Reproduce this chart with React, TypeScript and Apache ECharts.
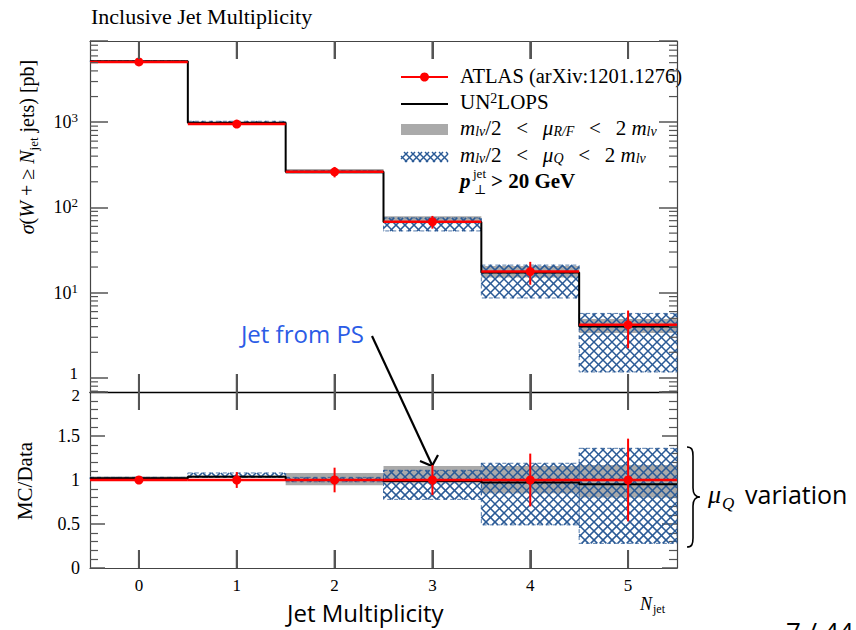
import React, { useEffect, useRef } from 'react';
import * as echarts from 'echarts';

// ---------------- data ----------------
const nJet = [0, 1, 2, 3, 4, 5];
const xTickLabels = ['0', '1', '2', '3', '4', '5'];
const atlasData = [5100, 950, 262, 68, 17.7, 4.2];
const atlasRelErr = [0.02, 0.09, 0.14, 0.17, 0.3, 0.47];
const un2lops = [5200, 985, 262, 67.3, 17.2, 4.0];
// scale-variation bands, relative to data
const muRFLo = [1.0, 1.03, 0.94, 0.96, 0.85, 0.8];
const muRFHi = [1.04, 1.05, 1.08, 1.16, 1.16, 1.17];
const muQLo = [1.01, 1.03, 0.98, 0.78, 0.49, 0.28];
const muQHi = [1.03, 1.08, 1.03, 1.11, 1.19, 1.36];
const logMinorTicks = [
  0.7, 0.8, 0.9, 2, 3, 4, 5, 6, 7, 8, 9, 20, 30, 40, 50, 60, 70, 80, 90,
  200, 300, 400, 500, 600, 700, 800, 900, 2000, 3000, 4000, 5000, 6000, 7000, 8000,
];

const SERIF = '"Liberation Serif", "DejaVu Serif", serif';
const SANS = '"Open Sans", "Noto Sans", sans-serif';
const RED = '#ff0000';
const BLUE = '#2a5a96';
const GRAY = '#aaaaaa';
const FRAME = '#444444';
const TICK = '#555555';

echarts.graphic.registerShape(
  'brace',
  echarts.graphic.extendPath(
    'M0,0 C5,0 6,3 6,9 L6,41 C6,46 8,50 13,50 C8,50 6,54 6,59 L6,91 C6,97 5,100 0,100',
    {}
  )
);

function hatchLines(x0: number, y0: number, x1: number, y1: number, d: number, color: string, lw: number) {
  const out: any[] = [];
  for (let c = Math.ceil((x0 + y0) / d) * d; c <= x1 + y1; c += d) {
    const xa = Math.max(x0, c - y1);
    const xb = Math.min(x1, c - y0);
    if (xb > xa) out.push({ type: 'line', shape: { x1: xa, y1: c - xa, x2: xb, y2: c - xb }, style: { stroke: color, lineWidth: lw } });
  }
  for (let c = Math.ceil((x0 - y1) / d) * d; c <= x1 - y0; c += d) {
    const xa = Math.max(x0, c + y0);
    const xb = Math.min(x1, c + y1);
    if (xb > xa) out.push({ type: 'line', shape: { x1: xa, y1: xa - c, x2: xb, y2: xb - c }, style: { stroke: color, lineWidth: lw } });
  }
  return out;
}

const grayRender = (params: any, api: any) => {
  const x = api.value(0);
  const p0 = api.coord([x - 0.5, api.value(2)]);
  const p1 = api.coord([x + 0.5, api.value(1)]);
  return { type: 'rect', shape: { x: p0[0], y: p0[1], width: p1[0] - p0[0], height: p1[1] - p0[1] }, style: { fill: GRAY } };
};

const hatchRender = (params: any, api: any) => {
  const x = api.value(0);
  const p0 = api.coord([x - 0.5, api.value(2)]);
  const p1 = api.coord([x + 0.5, api.value(1)]);
  const children = hatchLines(p0[0], p0[1], p1[0], p1[1], 9, BLUE, 1.5);
  children.push({
    type: 'rect',
    shape: { x: p0[0], y: p0[1], width: p1[0] - p0[0], height: p1[1] - p0[1] },
    style: { fill: 'none', stroke: BLUE, lineWidth: 1, lineDash: [4, 3], opacity: 0.8 },
  });
  return { type: 'group', children };
};

const atlasRender = (params: any, api: any) => {
  const x = api.value(0);
  const v = api.value(1);
  const a = api.coord([x - 0.5, v]);
  const b = api.coord([x + 0.5, v]);
  const lo = api.coord([x, api.value(2)]);
  const hi = api.coord([x, api.value(3)]);
  return {
    type: 'group',
    children: [
      { type: 'line', shape: { x1: a[0], y1: a[1], x2: b[0], y2: b[1] }, style: { stroke: RED, lineWidth: 2.5 } },
      { type: 'line', shape: { x1: lo[0], y1: hi[1], x2: lo[0], y2: lo[1] }, style: { stroke: RED, lineWidth: 2 } },
      { type: 'circle', shape: { cx: lo[0], cy: a[1], r: 4.5 }, style: { fill: RED } },
    ],
  };
};

const minorTickRender = (params: any, api: any) => {
  const cs = params.coordSys;
  const y = api.coord([0, api.value(1)])[1];
  return {
    type: 'group',
    children: [
      { type: 'line', shape: { x1: cs.x, y1: y, x2: cs.x + 8, y2: y }, style: { stroke: TICK, lineWidth: 1.2 } },
      { type: 'line', shape: { x1: cs.x + cs.width - 8, y1: y, x2: cs.x + cs.width, y2: y }, style: { stroke: TICK, lineWidth: 1.2 } },
    ],
  };
};

const xTickRender = (params: any, api: any) => {
  const cs = params.coordSys;
  const x = api.coord([api.value(0), api.value(1)])[0];
  return {
    type: 'group',
    children: [
      { type: 'rect', shape: { x: x - 1, y: cs.y, width: 2, height: 18 }, style: { fill: TICK } },
      { type: 'rect', shape: { x: x - 1, y: cs.y + cs.height - 18, width: 2, height: 18 }, style: { fill: TICK } },
    ],
  };
};

function stepPoints(vals: number[]) {
  const out: number[][] = [];
  vals.forEach((v, i) => {
    out.push([nJet[i] - 0.5, v]);
    out.push([nJet[i] + 0.5, v]);
  });
  return out;
}

function txt(x: number, baseline: number, text: string, size: number, extra: any = {}) {
  const k = extra.fontFamily === SANS ? 0.36 : 0.34;
  return {
    type: 'text',
    x,
    y: baseline - k * size,
    silent: true,
    style: { text, fontSize: size, fontFamily: SERIF, fill: '#000', verticalAlign: 'middle', align: 'left', ...extra },
  };
}

const FS = 21;
const mathRich = {
  r: { fontFamily: SERIF, fontSize: FS, lineHeight: 21 },
  i: { fontFamily: SERIF, fontSize: FS, fontStyle: 'italic', lineHeight: 21 },
  sb: { fontFamily: SERIF, fontSize: 14, fontStyle: 'italic', lineHeight: 6, verticalAlign: 'bottom' },
  sp: { fontFamily: SERIF, fontSize: 14, lineHeight: 12, verticalAlign: 'top' },
};

function richLine(x: number, baseline: number, text: string, rich: any = mathRich) {
  return {
    type: 'text',
    x,
    y: baseline - 7,
    silent: true,
    style: { text, rich, verticalAlign: 'middle', align: 'left', fill: '#000' },
  };
}

const LX0 = 401;
const LX1 = 448;
const SP = '\u2002\u2009';

const graphics: any[] = [
  txt(91, 24, 'Inclusive Jet Multiplicity', 22),
  // y titles
  {
    type: 'text', x: 27, y: 147, rotation: Math.PI / 2, silent: true,
    style: {
      text: '{i|σ}{r|(}{i|W}{r| + ≥ }{i|N}{sbr|jet}{r| jets) [pb]}',
      rich: {
        r: { fontFamily: SERIF, fontSize: 20, lineHeight: 26 },
        i: { fontFamily: SERIF, fontSize: 20, fontStyle: 'italic', lineHeight: 26 },
        sbr: { fontFamily: SERIF, fontSize: 13, lineHeight: 13, verticalAlign: 'bottom' },
      },
      align: 'center', verticalAlign: 'middle', fill: '#000',
    },
  },
  {
    type: 'text', x: 25, y: 481, rotation: Math.PI / 2, silent: true,
    style: { text: 'MC/Data', fontFamily: SERIF, fontSize: 21, align: 'center', verticalAlign: 'middle', fill: '#000' },
  },
  // legend
  { type: 'line', shape: { x1: LX0, y1: 77, x2: LX1, y2: 77 }, style: { stroke: RED, lineWidth: 2 } },
  { type: 'circle', shape: { cx: (LX0 + LX1) / 2, cy: 77, r: 4.5 }, style: { fill: RED } },
  txt(460, 83, 'ATLAS (arXiv:1201.1276)', 20.5),
  { type: 'line', shape: { x1: LX0, y1: 104, x2: LX1, y2: 104 }, style: { stroke: '#000', lineWidth: 2 } },
  richLine(460, 109, '{r|UN}{sp|2}{r|LOPS}'),
  { type: 'rect', shape: { x: LX0, y: 124, width: LX1 - LX0, height: 11 }, style: { fill: GRAY } },
  richLine(460, 135, `{i|m}{sb|lν}{r|/2${SP}<${SP}}{i|μ}{sb|R/F}{r|${SP}<${SP}2 }{i|m}{sb|lν}`),
  { type: 'group', children: hatchLines(LX0, 152, LX1, 162, 7, BLUE, 1.4) },
  richLine(460, 162, `{i|m}{sb|lν}{r|/2${SP}<${SP}}{i|μ}{sb|Q}{r|${SP}<${SP}2 }{i|m}{sb|lν}`),
  txt(460, 188, 'p', 21, { fontWeight: 'bold', fontStyle: 'italic' }),
  txt(473, 178, 'jet', 13),
  txt(474, 194, '⊥', 13),
  txt(491, 188, '> 20 GeV', 21, { fontWeight: 'bold' }),
  // annotations
  txt(364, 342, 'Jet from PS', 24, { fontFamily: SANS, fill: '#2b5ce6', align: 'right' }),
  { type: 'line', shape: { x1: 372, y1: 336, x2: 432, y2: 465 }, style: { stroke: '#000', lineWidth: 2.2 } },
  { type: 'polyline', shape: { points: [[420, 461], [432, 466], [438, 455]] }, style: { stroke: '#000', lineWidth: 2.2, fill: 'none' } },
  { type: 'brace', x: 687, y: 447, style: { stroke: '#000', fill: 'none', lineWidth: 1.6 } },
  txt(708, 503, 'μ', 26, { fontStyle: 'italic' }),
  txt(722, 509, 'Q', 17, { fontStyle: 'italic' }),
  txt(745, 503, 'variation', 25, { fontFamily: SANS }),
  // x title etc
  txt(287, 621, 'Jet Multiplicity', 24, { fontFamily: SANS }),
  txt(640, 610, 'N', 18, { fontStyle: 'italic' }),
  txt(653, 613, 'jet', 12),
  txt(786, 640, '7 / 44', 26, { fontFamily: SANS }),
];

const valueX = {
  type: 'value',
  min: -0.5,
  max: 5.5,
  splitLine: { show: false },
  axisLine: { show: true, onZero: false, lineStyle: { color: FRAME, width: 1.2 } },
  axisTick: { show: false },
  axisLabel: { show: false },
};

const catX = {
  type: 'category',
  data: xTickLabels,
  boundaryGap: true,
  splitLine: { show: false },
  axisLine: { show: false },
  axisTick: { show: true, interval: 0, alignWithLabel: true, inside: true, length: 18, lineStyle: { color: TICK, width: 2 } },
  axisLabel: { show: false },
};

const logAxisCommon = {
  type: 'log',
  logBase: 10,
  min: 0.684,
  max: 8970,
  gridIndex: 0,
  splitLine: { show: false },
  axisLine: { show: true, onZero: false, lineStyle: { color: FRAME, width: 1.2 } },
  axisTick: { show: true, inside: true, length: 18, lineStyle: { color: TICK, width: 1.5 } },
};

const ratioAxisCommon = {
  type: 'value',
  min: 0,
  max: 2,
  interval: 0.5,
  gridIndex: 1,
  splitLine: { show: false },
  axisLine: { show: true, onZero: false, lineStyle: { color: FRAME, width: 1.2 } },
  axisTick: { show: true, inside: true, length: 15, lineStyle: { color: TICK, width: 1.5 } },
  minorTick: { show: true, splitNumber: 5, length: 8, lineStyle: { color: TICK, width: 1.2 } },
};

const option: any = {
  animation: false,
  backgroundColor: '#fff',
  grid: [
    { left: 90, top: 41, width: 587, height: 351 },
    { left: 90, top: 392, width: 587, height: 176 },
  ],
  xAxis: [
    { ...valueX, gridIndex: 0, position: 'bottom', axisLine: { show: true, onZero: false, lineStyle: { color: '#000', width: 1.4 } } },
    { ...valueX, gridIndex: 0, position: 'top' },
    { ...valueX, gridIndex: 1, position: 'bottom' },
    { ...valueX, gridIndex: 1, position: 'top', axisLine: { show: false } },
    { ...catX, gridIndex: 0, position: 'bottom' },
    { ...catX, gridIndex: 0, position: 'top' },
    {
      ...catX,
      gridIndex: 1,
      position: 'bottom',
      axisLabel: { show: true, interval: 0, margin: 9, fontFamily: SERIF, fontSize: 17, color: '#000' },
    },
    { ...catX, gridIndex: 1, position: 'top' },
  ],
  yAxis: [
    {
      ...logAxisCommon,
      position: 'left',
      axisLabel: {
        show: true,
        margin: 12,
        formatter: (v: number) => {
          const l = Math.log10(v);
          const e = Math.round(l);
          if (Math.abs(l - e) > 1e-6) return '';
          return e === 0 ? '{one|1}' : `{b|10}{s|${e}}`;
        },
        rich: {
          b: { fontFamily: SERIF, fontSize: 18, color: '#000', lineHeight: 22 },
          one: { fontFamily: SERIF, fontSize: 17, color: '#000', lineHeight: 16, padding: [0, 0, 8, 0] },
          s: { fontFamily: SERIF, fontSize: 13, color: '#000', lineHeight: 16, verticalAlign: 'top' },
        },
      },
    },
    { ...logAxisCommon, position: 'right', axisLabel: { show: false } },
    {
      ...ratioAxisCommon,
      position: 'left',
      axisLabel: {
        show: true, margin: 10, fontFamily: SERIF, fontSize: 18, color: '#000',
        formatter: (v: number) => (v === 2 ? '{two|2}' : String(v)),
        rich: { two: { fontFamily: SERIF, fontSize: 17, color: '#000', padding: [6, 0, 0, 0] } },
      },
    },
    { ...ratioAxisCommon, position: 'right', axisLabel: { show: false } },
  ],
  graphic: graphics,
  series: [
    // upper panel
    {
      type: 'custom', name: 'muRF', xAxisIndex: 0, yAxisIndex: 0, z: 2, silent: true,
      data: nJet.map((x, i) => [x, muRFLo[i] * atlasData[i], muRFHi[i] * atlasData[i]]),
      encode: { x: 0, y: [1, 2] }, renderItem: grayRender,
    },
    {
      type: 'custom', name: 'muQ', xAxisIndex: 0, yAxisIndex: 0, z: 3, silent: true,
      data: nJet.map((x, i) => [x, muQLo[i] * atlasData[i], muQHi[i] * atlasData[i]]),
      encode: { x: 0, y: [1, 2] }, renderItem: hatchRender,
    },
    {
      type: 'line', name: 'UN2LOPS', xAxisIndex: 0, yAxisIndex: 0, z: 4, silent: true,
      data: stepPoints(un2lops), showSymbol: false, symbol: 'none',
      lineStyle: { color: '#000', width: 2 },
    },
    {
      type: 'custom', name: 'ATLAS', xAxisIndex: 0, yAxisIndex: 0, z: 5, silent: true,
      data: nJet.map((x, i) => [x, atlasData[i], atlasData[i] * (1 - atlasRelErr[i]), atlasData[i] * (1 + atlasRelErr[i])]),
      encode: { x: 0, y: 1 }, renderItem: atlasRender,
    },
    {
      type: 'custom', name: 'minor', xAxisIndex: 0, yAxisIndex: 0, z: 6, silent: true, clip: false,
      data: logMinorTicks.map((v) => [0, v]),
      encode: { x: 0, y: 1 }, renderItem: minorTickRender,
    },
    {
      type: 'custom', name: 'xticks upper', xAxisIndex: 0, yAxisIndex: 0, z: 7, silent: true, clip: false,
      data: nJet.map((v) => [v, 10]),
      encode: { x: 0, y: 1 }, renderItem: xTickRender,
    },
    // ratio panel
    {
      type: 'custom', name: 'muRF ratio', xAxisIndex: 2, yAxisIndex: 2, z: 2, silent: true,
      data: nJet.map((x, i) => [x, muRFLo[i], muRFHi[i]]),
      encode: { x: 0, y: [1, 2] }, renderItem: grayRender,
    },
    {
      type: 'custom', name: 'muQ ratio', xAxisIndex: 2, yAxisIndex: 2, z: 3, silent: true,
      data: nJet.map((x, i) => [x, muQLo[i], muQHi[i]]),
      encode: { x: 0, y: [1, 2] }, renderItem: hatchRender,
    },
    {
      type: 'line', name: 'UN2LOPS ratio', xAxisIndex: 2, yAxisIndex: 2, z: 4, silent: true,
      data: stepPoints(un2lops.map((v, i) => v / atlasData[i])), showSymbol: false, symbol: 'none',
      lineStyle: { color: '#000', width: 2 },
    },
    {
      type: 'custom', name: 'ATLAS ratio', xAxisIndex: 2, yAxisIndex: 2, z: 5, silent: true,
      data: nJet.map((x, i) => [x, 1, 1 - atlasRelErr[i], 1 + atlasRelErr[i]]),
      encode: { x: 0, y: 1 }, renderItem: atlasRender,
    },
    {
      type: 'custom', name: 'xticks ratio', xAxisIndex: 2, yAxisIndex: 2, z: 7, silent: true, clip: false,
      data: nJet.map((v) => [v, 1]),
      encode: { x: 0, y: 1 }, renderItem: xTickRender,
    },
  ],
};

export default function App() {
  const ref = useRef<HTMLDivElement>(null);
  useEffect(() => {
    const chart = echarts.init(ref.current as HTMLDivElement, null, { renderer: 'svg' });
    chart.setOption(option);
    return () => chart.dispose();
  }, []);
  return (
    <div
      ref={ref}
      style={{ position: 'absolute', left: 0, top: 0, width: 856, height: 630, background: '#fff', overflow: 'hidden' }}
    />
  );
}
